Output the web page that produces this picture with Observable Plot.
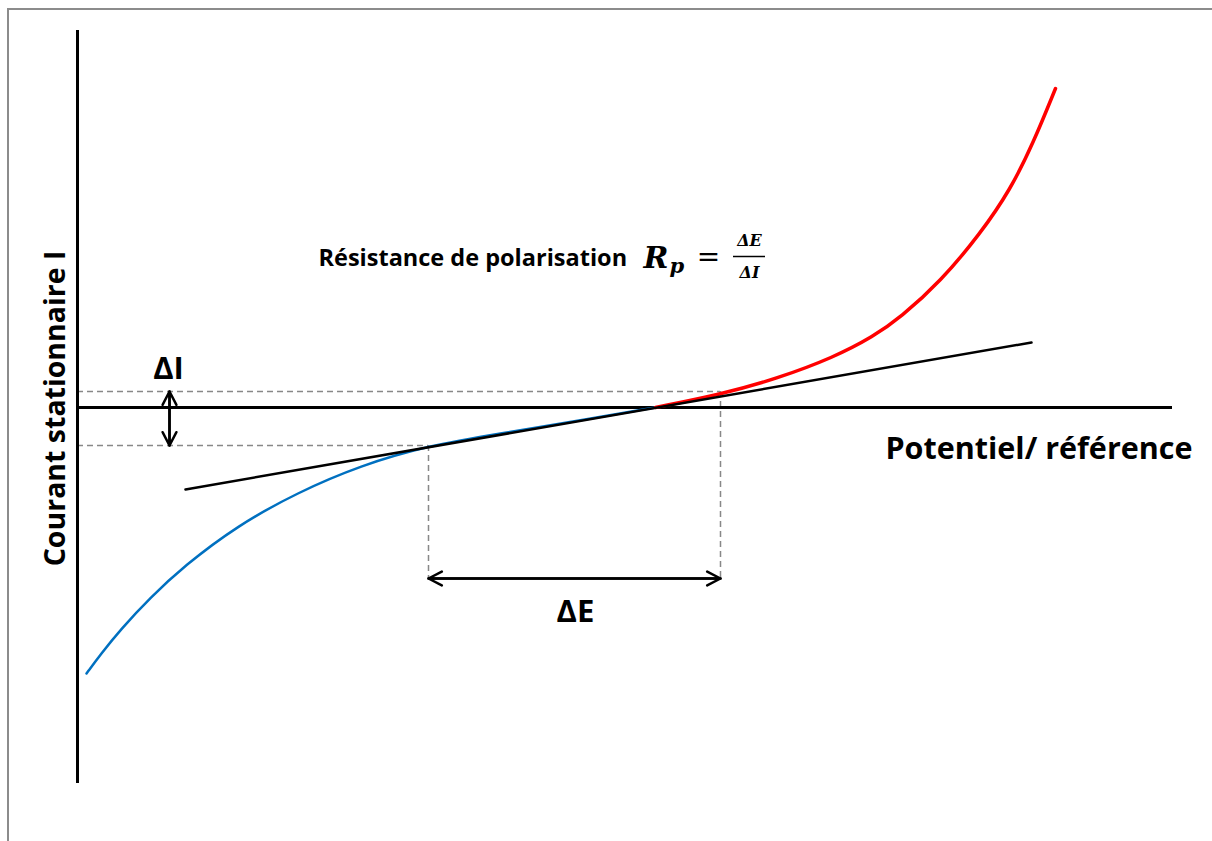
<!DOCTYPE html>
<html>
<head>
<meta charset="utf-8">
<script src="https://cdn.jsdelivr.net/npm/d3@7"></script>
<script src="https://cdn.jsdelivr.net/npm/@observablehq/plot@0.6"></script>
<style>
  html, body { margin: 0; padding: 0; background: #fff; overflow: hidden; }
  #wrap { position: relative; width: 1212px; height: 841px; }
  #frame { position: absolute; left: 7px; top: 8px; width: 1300px; height: 900px;
           border-left: 2px solid #8c8c8c; border-top: 2px solid #8c8c8c; }
  #chart { position: absolute; left: 0; top: 0; }
</style>
</head>
<body>
<div id="wrap"><div id="frame"></div><div id="chart"></div></div>
<script>
// Potential E (relative to corrosion potential, arbitrary units) and current I (arbitrary units)
const cathodicE = [-569, -555, -535, -505, -472, -418, -358, -295, -227, -155, -65, 0];
const cathodicI = [-266, -247, -222, -190, -159, -118, -85, -58, -38, -26, -11, 0];
const anodicE = [0, 65, 122, 178, 218, 245, 285, 325, 355, 378, 400];
const anodicI = [0, 13, 29, 50, 71, 90, 126, 174, 218, 265, 319];
const tangentE = [-470, 376];
const tangentI = [-82, 65];
const deltaE = [-227, 65];   // E bounds of ΔE
const deltaI = [-38, 16];    // I bounds of ΔI
const axisE = [-578, 517];
const axisI = [-376, 377];

const cathodic = cathodicE.map((e, i) => ({E: e, I: cathodicI[i]}));
const anodic = anodicE.map((e, i) => ({E: e, I: anodicI[i]}));
const tangent = tangentE.map((e, i) => ({E: e, I: tangentI[i]}));

const dashColor = "#888888";
const boldFont = "'Open Sans', Lato, sans-serif";
const mathFont = "'DejaVu Serif', 'Liberation Serif', serif";

const chart = Plot.plot({
  width: 1212,
  height: 841,
  margin: 0,
  style: {background: "transparent"},
  x: {domain: [-655, 557], axis: null},
  y: {domain: [-434, 407], axis: null},
  marks: [
    // dashed guide lines
    Plot.ruleY([deltaI[1]], {x1: axisE[0], x2: deltaE[1], stroke: dashColor, strokeWidth: 1.5, strokeDasharray: "6,4"}),
    Plot.ruleY([deltaI[0]], {x1: axisE[0], x2: deltaE[0], stroke: dashColor, strokeWidth: 1.5, strokeDasharray: "6,4"}),
    Plot.ruleX([deltaE[0]], {y1: deltaI[0], y2: -171, stroke: dashColor, strokeWidth: 1.5, strokeDasharray: "6,4"}),
    Plot.ruleX([deltaE[1]], {y1: deltaI[1], y2: -171, stroke: dashColor, strokeWidth: 1.5, strokeDasharray: "6,4"}),
    // axes
    Plot.ruleY([0], {x1: axisE[0], x2: axisE[1], stroke: "#000", strokeWidth: 3}),
    Plot.ruleX([axisE[0]], {y1: axisI[0], y2: axisI[1], stroke: "#000", strokeWidth: 3}),
    // curves
    Plot.line(cathodic, {x: "E", y: "I", stroke: "#0070C0", strokeWidth: 2.5, curve: "basis"}),
    Plot.line(anodic, {x: "E", y: "I", stroke: "#FF0000", strokeWidth: 3.5, curve: "basis"}),
    Plot.line(tangent, {x: "E", y: "I", stroke: "#000", strokeWidth: 2.5}),
    // arrows ΔI and ΔE (double headed)
    Plot.arrow([
      {x1: -486, y1: deltaI[0], x2: -486, y2: deltaI[1]},
      {x1: -486, y1: deltaI[1], x2: -486, y2: deltaI[0]},
      {x1: deltaE[0], y1: -171, x2: deltaE[1], y2: -171},
      {x1: deltaE[1], y1: -171, x2: deltaE[0], y2: -171}
    ], {x1: "x1", y1: "y1", x2: "x2", y2: "y2", stroke: "#000", strokeWidth: 2.5, headLength: 9, headAngle: 55}),
    // labels
    Plot.text(["ΔI"], {x: -487, y: 38, fontSize: 31, fontWeight: "bold", fontFamily: boldFont, fill: "#000"}),
    Plot.text(["ΔE"], {x: -80, y: -205, fontSize: 31, fontWeight: "bold", fontFamily: boldFont, fill: "#000"}),
    Plot.text(["Potentiel/ référence"], {x: 537, y: -42, textAnchor: "end", fontSize: 30.5, fontWeight: "bold", fontFamily: boldFont, fill: "#000"}),
    Plot.text(["Courant stationnaire I"], {x: -600, y: -1, rotate: -90, fontSize: 28.5, fontWeight: "bold", fontFamily: boldFont, fill: "#000"}),
    Plot.text(["Résistance de polarisation"], {x: -337, y: 149, textAnchor: "start", fontSize: 23.5, fontWeight: "bold", fontFamily: boldFont, fill: "#000"}),
    // formula Rp = ΔE / ΔI
    Plot.text(["R"], {x: -12, y: 149, textAnchor: "start", fontSize: 30, fontWeight: "bold", fontStyle: "italic", fontFamily: mathFont, fill: "#000"}),
    Plot.text(["p"], {x: 14, y: 141, textAnchor: "start", fontSize: 21, fontWeight: "bold", fontStyle: "italic", fontFamily: mathFont, fill: "#000"}),
    Plot.text(["="], {x: 53, y: 150, fontSize: 28, fontFamily: mathFont, fill: "#000"}),
    Plot.text(["ΔE"], {x: 94, y: 167, fontSize: 16, fontWeight: "bold", fontStyle: "italic", fontFamily: mathFont, fill: "#000"}),
    Plot.ruleY([151], {x1: 78, x2: 110, stroke: "#000", strokeWidth: 1.5}),
    Plot.text(["ΔI"], {x: 94, y: 135, fontSize: 16, fontWeight: "bold", fontStyle: "italic", fontFamily: mathFont, fill: "#000"})
  ]
});
document.getElementById("chart").appendChild(chart);
</script>
</body>
</html>
